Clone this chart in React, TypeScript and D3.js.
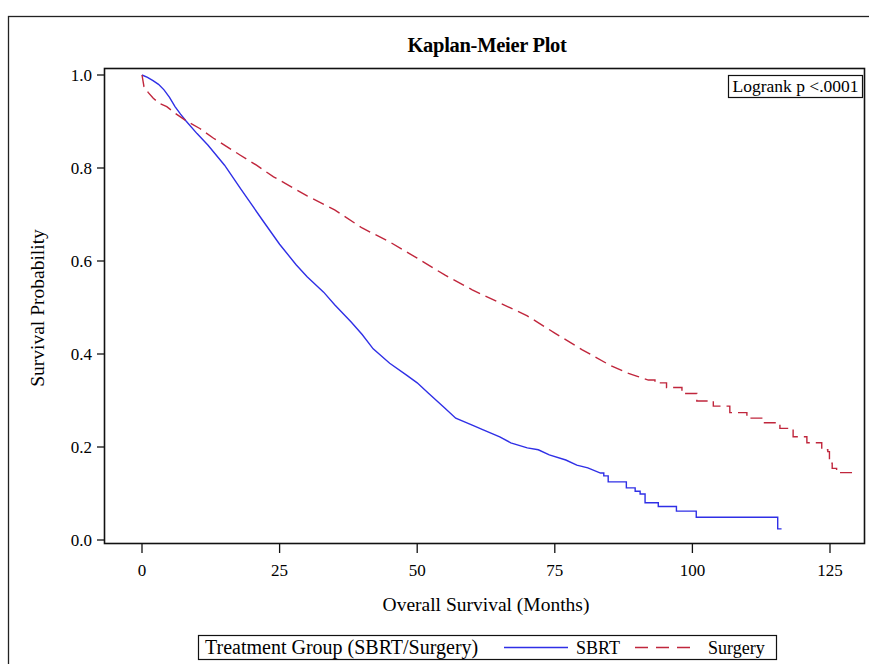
import React from "react";
import * as d3 from "d3";

// Kaplan-Meier estimates: [months, survival]
const sbrtBody: [number, number][] = [
  [0, 1.0], [1, 0.995], [2, 0.988], [3, 0.98], [4, 0.968], [5, 0.952], [6, 0.932],
  [7, 0.916], [8, 0.901], [10, 0.874], [12, 0.849], [15, 0.806], [18, 0.754], [20, 0.72],
  [22, 0.686], [25, 0.636], [28, 0.592], [30, 0.566], [33, 0.533], [35, 0.506], [38, 0.469],
  [40, 0.442], [42, 0.411], [45, 0.38], [48, 0.355], [50, 0.338], [52, 0.316], [55, 0.284],
  [57, 0.262], [60, 0.247], [62, 0.237], [65, 0.222], [67, 0.209], [70, 0.198], [72, 0.194],
  [74, 0.183], [77, 0.172], [79, 0.161], [81, 0.155], [83.3, 0.144],
];
const sbrtTail: [number, number][] = [
  [83.3, 0.144], [83.9, 0.138], [84.7, 0.125], [88, 0.112], [89.6, 0.105], [90.5, 0.099],
  [91.4, 0.08], [93.8, 0.072], [97.1, 0.062], [100.7, 0.049], [115.5, 0.024], [116.2, 0.024],
];
const surgeryBody: [number, number][] = [
  [0, 1.0], [0.36, 0.975], [1.15, 0.962], [2.05, 0.95], [3.14, 0.939], [4.5, 0.932],
  [6, 0.918], [8.1, 0.901], [10.5, 0.885], [13, 0.864], [15.4, 0.846], [17.8, 0.828],
  [20.8, 0.806], [23.9, 0.781], [25, 0.774], [30, 0.74], [35, 0.71], [40, 0.671],
  [45, 0.641], [50, 0.606], [55, 0.57], [60, 0.538], [65, 0.51], [70, 0.482], [75, 0.445],
  [80, 0.409], [85, 0.376], [88, 0.36], [90, 0.352], [92, 0.344],
];
const surgeryTail: [number, number][] = [
  [92, 0.344], [93.2, 0.338], [95.3, 0.328], [98.1, 0.315], [100.8, 0.299], [103.8, 0.288],
  [106.8, 0.274], [109.9, 0.262], [112.9, 0.252], [115.9, 0.24], [118.3, 0.222],
  [120.8, 0.209], [123.5, 0.194], [124.6, 0.19], [124.9, 0.165], [125.4, 0.154],
  [126.2, 0.145], [129.8, 0.145],
];

const xTicks = [0, 25, 50, 75, 100, 125];
const yTicks = [0, 0.2, 0.4, 0.6, 0.8, 1.0];
const seriesNames = ["SBRT", "Surgery"];
const seriesColors = ["#2f2fe6", "#c0263c"];

const FONT = "'Liberation Serif', 'Times New Roman', serif";

function stepExpand(pts: [number, number][]): [number, number][] {
  const out: [number, number][] = [];
  pts.forEach((p, i) => {
    if (i > 0) out.push([p[0], pts[i - 1][1]]);
    out.push(p);
  });
  return out;
}

export default function App() {
  const W = 869, H = 664;
  const plot = { left: 104.5, top: 68.5, right: 864.5, bottom: 543.5 };
  const x = d3.scaleLinear().domain([0, 125]).range([142, 830]);
  const y = d3.scaleLinear().domain([0, 1]).range([540, 75]);
  const line = d3.line<[number, number]>().x((d) => x(d[0])).y((d) => y(d[1]));

  const sbrtPts = sbrtBody.concat(stepExpand(sbrtTail).slice(1));
  const surgPts = surgeryBody.concat(stepExpand(surgeryTail).slice(1));

  return (
    <svg width={W} height={H} style={{ position: "absolute", left: 0, top: 0, background: "#fff" }}
      fontFamily={FONT}>
      <rect x={8.5} y={16.5} width={880} height={700} fill="none" stroke="#222" strokeWidth={1.3} />
      <text x={487} y={52} textAnchor="middle" fontSize={20.5} fontWeight="bold" fill="#000"
        letterSpacing={-0.3}>
        Kaplan-Meier Plot
      </text>
      {/* curves */}
      <path d={line(sbrtPts) || ""} fill="none" stroke={seriesColors[0]} strokeWidth={1.4} />
      <path d={line(surgPts) || ""} fill="none" stroke={seriesColors[1]} strokeWidth={1.4}
        strokeDasharray="12,6" />
      {/* plot frame */}
      <rect x={plot.left} y={plot.top} width={plot.right - plot.left} height={plot.bottom - plot.top}
        fill="none" stroke="#111" strokeWidth={1.6} />
      {/* y axis */}
      {yTicks.map((t) => (
        <g key={"y" + t}>
          <line x1={97} x2={plot.left} y1={y(t)} y2={y(t)} stroke="#111" strokeWidth={1.3} />
          <text x={92} y={y(t) + 5.5} textAnchor="end" fontSize={17} fill="#000">{t.toFixed(1)}</text>
        </g>
      ))}
      {/* x axis */}
      {xTicks.map((t) => (
        <g key={"x" + t}>
          <line x1={x(t)} x2={x(t)} y1={plot.bottom} y2={553} stroke="#111" strokeWidth={1.3} />
          <text x={x(t)} y={576} textAnchor="middle" fontSize={17} fill="#000">{t}</text>
        </g>
      ))}
      <text x={486} y={611} textAnchor="middle" fontSize={19.5} fill="#000">Overall Survival (Months)</text>
      <text transform={`translate(44,308) rotate(-90)`} textAnchor="middle" fontSize={19.5} fill="#000">
        Survival Probability
      </text>
      {/* logrank inset */}
      <rect x={728.5} y={75.5} width={134} height={22} fill="#fff" stroke="#111" strokeWidth={1.2} />
      <text x={795.5} y={92} textAnchor="middle" fontSize={17.5} fill="#000">Logrank p &lt;.0001</text>
      {/* legend */}
      <rect x={198.5} y={635.5} width={578} height={24} fill="#fff" stroke="#111" strokeWidth={1.2} />
      <text x={205} y={654} fontSize={20} fill="#000">Treatment Group (SBRT/Surgery)</text>
      <line x1={504} x2={568} y1={647.5} y2={647.5} stroke={seriesColors[0]} strokeWidth={1.3} />
      <text x={576} y={654} fontSize={18} fill="#000">{seriesNames[0]}</text>
      <line x1={635} x2={698} y1={647.5} y2={647.5} stroke={seriesColors[1]} strokeWidth={1.3}
        strokeDasharray="13,8" />
      <text x={708} y={654} fontSize={18} fill="#000">{seriesNames[1]}</text>
    </svg>
  );
}
